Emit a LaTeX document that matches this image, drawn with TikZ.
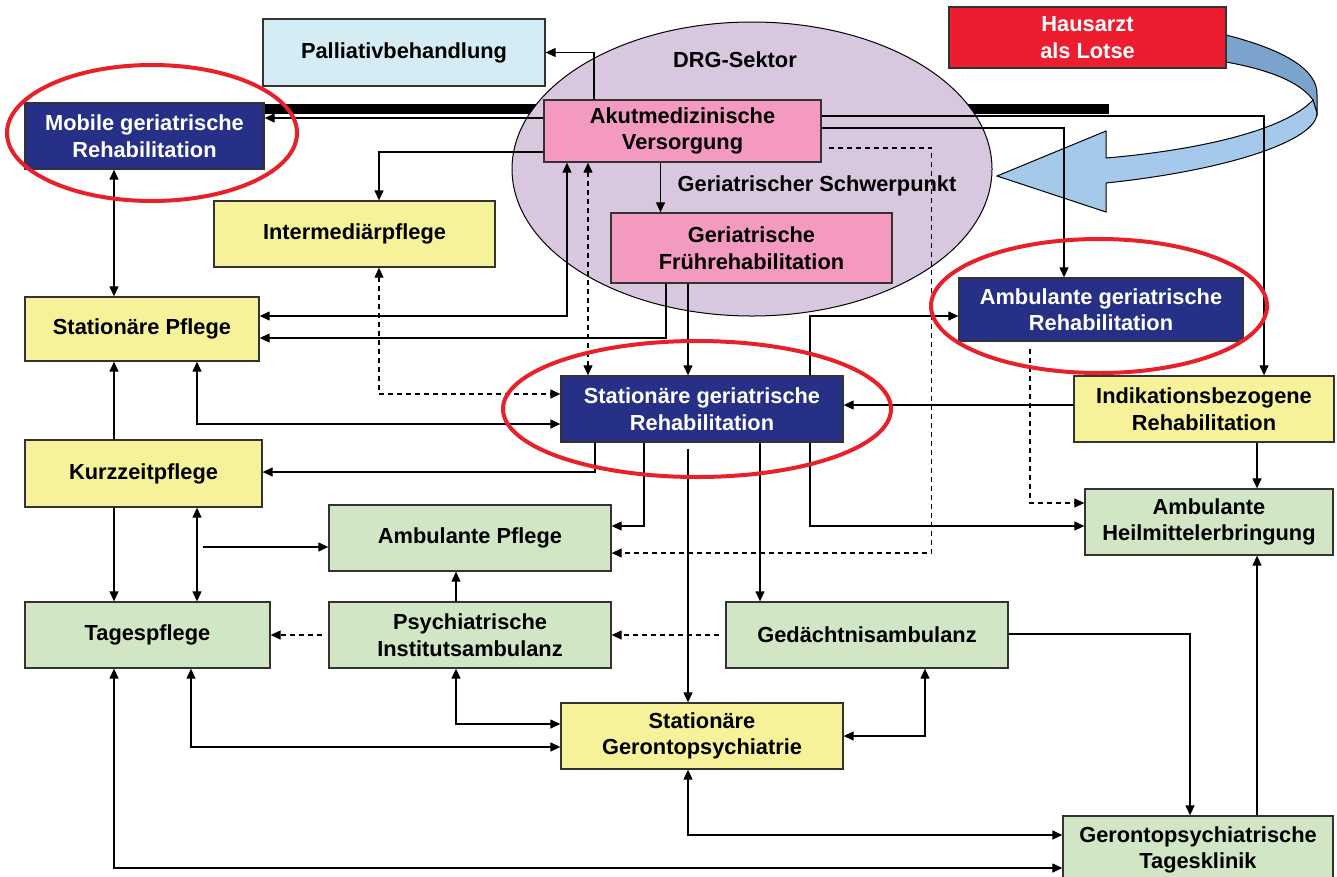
\documentclass[tikz,border=0pt]{standalone}
\usepackage{fontspec}
\setmainfont{Liberation Sans}
\usetikzlibrary{arrows.meta}
\definecolor{RehaBlue}{RGB}{38, 48, 135}
\definecolor{CareYellow}{RGB}{246, 242, 154}
\definecolor{AcutePink}{RGB}{244, 154, 193}
\definecolor{DrgLilac}{RGB}{217, 199, 224}
\definecolor{AmbGreen}{RGB}{208, 230, 197}
\definecolor{PalCyan}{RGB}{212, 236, 243}
\definecolor{LotseRed}{RGB}{237, 28, 46}
\definecolor{RingRed}{RGB}{232, 32, 42}
\definecolor{BandLight}{RGB}{164, 201, 235}
\definecolor{BandDark}{RGB}{122, 164, 205}

\begin{document}
\begin{tikzpicture}[
    x=1pt, y=-1pt,
    % --- Styles ---
    % Style for all boxes
    box-style/.style={
        draw=black!80,
        line width=1.3pt,
        align=center,
        inner sep=0pt,
        minimum height=66pt,
        font=\fontsize{21.8}{26.5}\selectfont\bfseries
    },
    blue-box/.style={box-style, fill=RehaBlue, text=white},
    yellow-box/.style={box-style, fill=CareYellow},
    green-box/.style={box-style, fill=AmbGreen},
    pink-box/.style={box-style, fill=AcutePink},
    % Style for the connecting arrows
    arrow-style/.style={
        -{Stealth[length=10pt, width=9pt, inset=0pt]},
        line width=1.2pt
    },
    both-arrow/.style={
        {Stealth[length=10pt, width=9pt, inset=0pt]}-{Stealth[length=10pt, width=9pt, inset=0pt]},
        line width=1.2pt
    },
    dash-arrow/.style={arrow-style, dash pattern=on 5pt off 4pt},
    % Style for the red highlight rings
    red-ring/.style={draw=RingRed, line width=4pt}
]
\useasboundingbox (0,0) rectangle (1337,876);

% --- Black bar behind the DRG sector ---
\fill[black] (264,104) rectangle (1109,114);

% --- DRG sector ---
\draw[fill=DrgLilac, line width=1pt] (752,169) ellipse [x radius=240pt, y radius=147pt];
\node[font=\fontsize{21.8}{26.5}\selectfont\bfseries] (drg-label) at (735,60) {DRG-Sektor};
\node[font=\fontsize{21.8}{26.5}\selectfont\bfseries] (focus-label) at (817,186) {Geriatrischer Schwerpunkt};

% --- Hausarzt band ---
\draw[fill=BandDark, line width=1pt] (1226,35) .. controls (1285,50) and (1318,70) .. (1317,95)
    -- (1317,113) -- (1313,100) .. controls (1300,82) and (1270,70) .. (1226,62) -- cycle;
\draw[fill=BandLight, line width=1pt] (1313,100) .. controls (1285,130) and (1200,150) .. (1106,158)
    -- (1106,131) -- (997,176) -- (1106,212) -- (1106,183)
    .. controls (1230,170) and (1317,140) .. (1317,113) -- cycle;

% --- Boxes ---
\node[box-style, fill=PalCyan, minimum width=282pt, minimum height=67pt] (pal) at (404,52.5) {Palliativbehandlung};
\node[blue-box, minimum width=239pt] (mob) at (144.5,136) {Mobile geriatrische\\Rehabilitation};
\node[yellow-box, minimum width=281pt] (inter) at (354.5,234) {Intermediärpflege};
\node[pink-box, minimum width=277pt, minimum height=62pt] (akut) at (682.5,131) {Akutmedizinische\\Versorgung};
\node[pink-box, minimum width=281pt, minimum height=70pt] (frueh) at (751.5,248) {Geriatrische\\Frührehabilitation};
\node[box-style, fill=LotseRed, text=white, minimum width=277pt, minimum height=61pt] (haus) at (1087.5,37.5) {Hausarzt\\als Lotse};
\node[yellow-box, minimum width=234pt, minimum height=64pt] (spfl) at (142,329) {Stationäre Pflege};
\node[blue-box, minimum width=282pt] (sgr) at (702,409) {Stationäre geriatrische\\Rehabilitation};
\node[blue-box, minimum width=284pt, minimum height=63pt] (agr) at (1101,309.5) {Ambulante geriatrische\\Rehabilitation};
\node[yellow-box, minimum width=260pt] (ind) at (1204,409) {Indikationsbezogene\\Rehabilitation};
\node[green-box, minimum width=248pt] (ahe) at (1209,522) {Ambulante\\Heilmittelerbringung};
\node[yellow-box, minimum width=237pt, minimum height=67pt] (kurz) at (143.5,473.5) {Kurzzeitpflege};
\node[green-box, minimum width=282pt] (ampf) at (470,538) {Ambulante Pflege};
\node[green-box, minimum width=245pt] (tag) at (147.5,635) {Tagespflege};
\node[green-box, minimum width=282pt] (pia) at (470,635) {Psychiatrische\\Institutsambulanz};
\node[green-box, minimum width=282pt] (ged) at (867,635) {Gedächtnisambulanz};
\node[yellow-box, minimum width=282pt] (sgp) at (702,736) {Stationäre\\Gerontopsychiatrie};
\node[green-box, minimum width=270pt, minimum height=68pt] (gtk) at (1198,850) {Gerontopsychiatrische\\Tagesklinik};
\coordinate (ampf-in) at (203,547);

% --- Connectors from the acute care ---
\draw[arrow-style] ([xshift=-88.5pt]akut.north) |- (pal.east);
\draw[arrow-style] ([yshift=13pt]akut.west) -- ([yshift=18pt]mob.east);
\draw[arrow-style] ([yshift=-21pt]akut.west) -| ([xshift=24.5pt]inter.north);
\draw[both-arrow] ([xshift=-115.5pt]akut.south) |- ([yshift=13pt]spfl.east);
\draw[both-arrow, dash pattern=on 5pt off 4pt] ([xshift=-94.5pt]akut.south) -- ([xshift=-114pt]sgr.north);
\draw[arrow-style] ([yshift=15pt]akut.east) -| ([xshift=60pt]ind.north);
\draw[arrow-style] ([yshift=3pt]akut.east) -| ([xshift=-37pt]agr.north);
\draw[dash-arrow] ([xshift=7pt, yshift=-17pt]akut.east) -- ++(103,0) |- ([yshift=-15pt]ampf.east);
\draw[arrow-style] ([xshift=-22pt]akut.south) -- ([xshift=-91pt]frueh.north);

% --- Connectors from the early rehabilitation ---
\draw[arrow-style] ([xshift=-85.5pt]frueh.south) |- ([yshift=-9pt]spfl.east);
\draw[arrow-style] ([xshift=-63.5pt]frueh.south) -- ([xshift=-14pt]sgr.north);

% --- Connectors round the inpatient rehabilitation ---
\draw[both-arrow, dash pattern=on 5pt off 4pt] ([xshift=24.5pt]inter.south) |- ([yshift=15pt]sgr.west);
\draw[both-arrow] ([xshift=55pt]spfl.south) |- ([yshift=-15pt]sgr.west);
\draw[arrow-style] ([yshift=4pt]ind.west) -- ([yshift=4pt]sgr.east);
\draw[arrow-style] ([xshift=108pt]sgr.north) |- ([yshift=-6.5pt]agr.west);
\draw[arrow-style] ([xshift=108pt]sgr.south) |- ([yshift=-4pt]ahe.west);
\draw[dash-arrow, shorten <=7pt] ([xshift=-71pt]agr.south) |- ([yshift=19pt]ahe.west);
\draw[arrow-style] ([xshift=53pt]ind.south) -- ([xshift=48pt]ahe.north);
\draw[arrow-style] ([xshift=-107pt]sgr.south) |- ([yshift=1.5pt]kurz.east);
\draw[arrow-style] ([xshift=-58pt]sgr.south) |- ([yshift=12pt]ampf.east);
\draw[arrow-style, shorten <=6pt] ([xshift=-14pt]sgr.south) -- ([xshift=-14pt]sgp.north);
\draw[arrow-style] ([xshift=58pt]sgr.south) -- ([xshift=-107pt]ged.north);

% --- Connectors of the care boxes ---
\draw[both-arrow] ([xshift=-30.5pt]mob.south) -- ([xshift=-28pt]spfl.north);
\draw[arrow-style] ([xshift=-29.5pt]kurz.north) -- ([xshift=-28pt]spfl.south);
\draw[arrow-style] ([xshift=-29.5pt]kurz.south) -- ([xshift=-33.5pt]tag.north);
\draw[both-arrow] ([xshift=53.5pt]kurz.south) -- ([xshift=49.5pt]tag.north);
\draw[arrow-style] (ampf-in) -- ([yshift=-9pt]ampf.west);
\draw[arrow-style] ([xshift=-14pt]pia.north) -- ([xshift=-14pt]ampf.south);
\draw[dash-arrow, shorten <=6pt] (pia.west) -- (tag.east);
\draw[dash-arrow, shorten <=6pt] (ged.west) -- (pia.east);

% --- Connectors to the gerontopsychiatry ---
\draw[both-arrow] ([xshift=-14pt]pia.south) |- ([yshift=12pt]sgp.west);
\draw[both-arrow] ([xshift=43.5pt]tag.south) |- ([yshift=-11pt]sgp.west);
\draw[both-arrow] ([xshift=58pt]ged.south) |- (sgp.east);
\draw[arrow-style] ([yshift=1pt]ged.east) -| ([xshift=-8pt]gtk.north);
\draw[arrow-style] ([xshift=59pt]gtk.north) -- ([xshift=48pt]ahe.south);
\draw[both-arrow] ([xshift=-14pt]sgp.south) |- ([yshift=15pt]gtk.west);
\draw[both-arrow] ([xshift=-33.5pt]tag.south) |- ([yshift=-18pt]gtk.west);

% --- Highlight rings ---
\draw[red-ring] (152,133) ellipse [x radius=145pt, y radius=68pt];
\draw[red-ring] (697,409) ellipse [x radius=194pt, y radius=68pt];
\draw[red-ring] (1099,306) ellipse [x radius=168pt, y radius=67pt];

\end{tikzpicture}
\end{document}
